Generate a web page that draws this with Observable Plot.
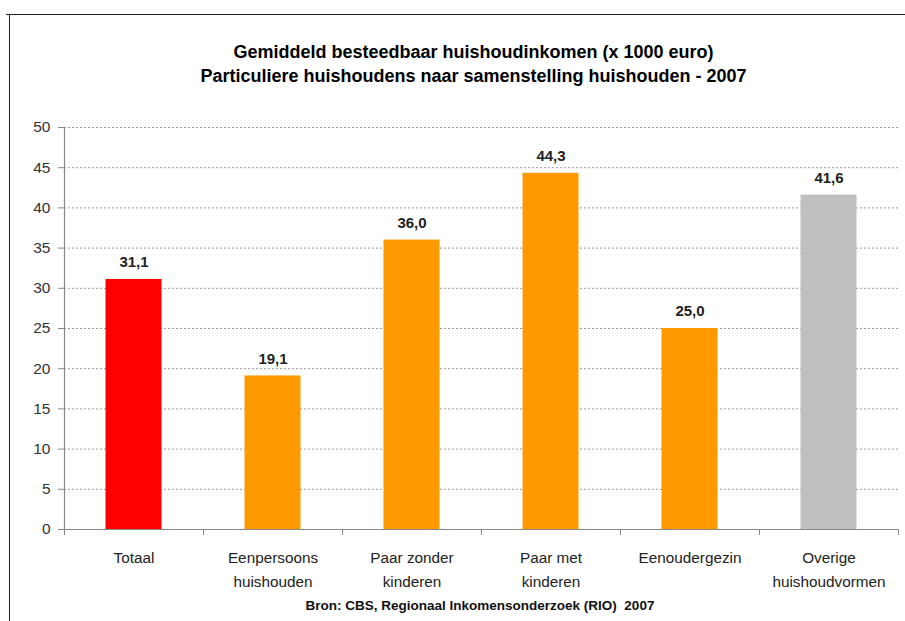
<!DOCTYPE html>
<html>
<head>
<meta charset="utf-8">
<script src="https://cdn.jsdelivr.net/npm/d3@7"></script>
<script src="https://cdn.jsdelivr.net/npm/@observablehq/plot@0.6"></script>
<style>
  body { margin: 0; background: #fff; }
  #wrap { position: relative; width: 905px; height: 621px; overflow: hidden; font-family: "Liberation Sans", Arial, sans-serif; }
  #topline { position: absolute; left: 6px; top: 14px; width: 899px; height: 0; border-top: 1.5px solid #222; }
  #leftline { position: absolute; left: 9px; top: 14px; width: 0; height: 607px; border-left: 1.5px solid #222; }
  #title { position: absolute; left: 0; top: 40px; width: 947px; text-align: center; font-weight: bold; font-size: 18px; line-height: 24px; color: #000; }
  #chart { position: absolute; left: 0; top: 100px; }
  #caption { position: absolute; left: 0; top: 598px; width: 960px; text-align: center; font-weight: bold; font-size: 13.5px; color: #111; }
</style>
</head>
<body>
<div id="wrap">
  <div id="topline"></div>
  <div id="leftline"></div>
  <div id="title">Gemiddeld besteedbaar huishoudinkomen (x 1000 euro)<br>Particuliere huishoudens naar samenstelling huishouden - 2007</div>
  <div id="chart"></div>
  <div id="caption">Bron: CBS, Regionaal Inkomensonderzoek (RIO)&nbsp; 2007</div>
</div>
<script>
const categories = ["Totaal", "Eenpersoons\nhuishouden", "Paar zonder\nkinderen", "Paar met\nkinderen", "Eenoudergezin", "Overige\nhuishoudvormen"];
const values = [31.1, 19.1, 36.0, 44.3, 25.0, 41.6];
const colors = ["#ff0000", "#ff9900", "#ff9900", "#ff9900", "#ff9900", "#c0c0c0"];
const yTicks = [0, 5, 10, 15, 20, 25, 30, 35, 40, 45, 50];

const data = categories.map((c, i) => ({cat: c, i, value: values[i], color: colors[i]}));
const fmt = v => d3.format(".1f")(v).replace(".", ",");

const chart = Plot.plot({
  width: 905,
  height: 490,
  marginLeft: 64,
  marginRight: 7,
  marginTop: 27,
  marginBottom: 61,
  style: {fontFamily: "'Liberation Sans', Arial, sans-serif", fontSize: "14px", color: "#333", background: "transparent"},
  x: {type: "linear", domain: [0, categories.length], axis: null},
  y: {domain: [0, 50], axis: null},
  marks: [
    Plot.ruleY(yTicks.filter(d => d > 0), {stroke: "#999", strokeDasharray: "2,2", strokeWidth: 1}),
    Plot.rectY(data, {x1: "i", x2: d => d.i + 1, y: "value", fill: "color", insetLeft: 41.5, insetRight: 41.5}),
    Plot.text(data, {x: d => d.i + 0.5, y: "value", text: d => fmt(d.value), dy: -17, fontWeight: "bold", fontSize: 15, fill: "#222"}),
    Plot.ruleY([0], {stroke: "#888", strokeWidth: 1.2}),
    Plot.ruleX([0], {stroke: "#888", strokeWidth: 1.2}),
    Plot.axisY({ticks: yTicks, tickSize: 6, tickPadding: 8, stroke: "#888", fill: "#333", fontSize: 15.5, label: null}),
    Plot.axisX({ticks: d3.range(0, categories.length + 1), tickSize: 6, tickFormat: () => "", stroke: "#888", label: null}),
    Plot.text(data, {x: d => d.i + 0.5, y: 0, text: "cat", dy: 17, lineAnchor: "top", lineHeight: 1.55, fontSize: 15.3, fill: "#222"})
  ]
});
document.getElementById("chart").appendChild(chart);
</script>
</body>
</html>
